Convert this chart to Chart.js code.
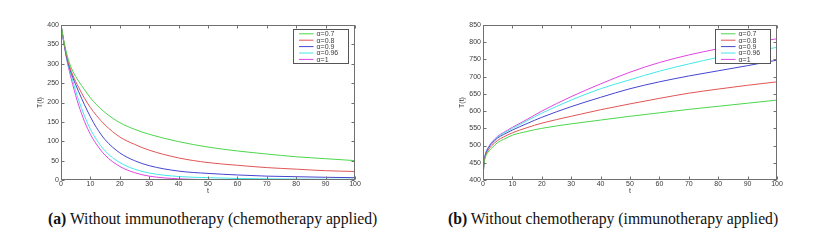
<!DOCTYPE html>
<html><head><meta charset="utf-8">
<script src="https://cdn.jsdelivr.net/npm/chart.js@4.4.1/dist/chart.umd.min.js"></script>
<style>
html,body{margin:0;padding:0;background:#fff;width:820px;height:240px;overflow:hidden}
.fig{position:absolute;top:0;width:410px;height:205px}
#fa{left:0}#fb{left:410px}
.cap{position:absolute;top:210px;font-family:"Liberation Serif","Times New Roman",serif;font-size:15.7px;color:#111;white-space:nowrap;line-height:18px}
#capA{left:48px}#capB{left:448px}
</style></head><body>
<div class="fig" id="fa"><canvas id="ca" width="410" height="205"></canvas></div>
<div class="fig" id="fb"><canvas id="cb" width="410" height="205"></canvas></div>
<div class="cap" id="capA"><b>(a)</b> Without immunotherapy (chemotherapy applied)</div>
<div class="cap" id="capB"><b>(b)</b> Without chemotherapy (immunotherapy applied)</div>
<script>
// ---- data ----
const alphaLabels = ['α=0.7', 'α=0.8', 'α=0.9', 'α=0.96', 'α=1'];
const seriesColors = ['#4cd64c', '#e05555', '#4545d0', '#45e8e8', '#e045e0'];

// (a) chemotherapy only
const tChemo   = [0, 1, 2, 3, 4, 5, 6, 8, 10, 12, 15, 20, 25, 30, 40, 50, 60, 70, 80, 90, 100];
const chemoA07 = [400, 358, 324, 299, 281, 267, 255, 233, 212, 195, 174, 148, 131, 118, 99, 85, 75, 67, 60, 55, 50];
const chemoA08 = [400, 356, 318, 291, 271, 254, 239, 211, 187, 167, 142, 111, 92, 77, 57, 45, 38, 32, 28, 24, 22];
const chemoA09 = [400, 354, 314, 287, 265, 246, 228, 194, 163, 136, 104, 70, 50, 37, 23, 17, 13, 10, 8.5, 7, 6];
const chemoA096= [400, 353, 312, 282, 256, 230, 206, 165, 131, 105, 75, 45, 28, 18, 9, 6, 4, 3, 2.5, 2, 2];
const chemoA1  = [400, 352, 309, 276, 246, 218, 193, 151, 118, 93, 64, 35, 19, 10, 3, 1, 0.3, 0.1, 0, 0, 0];

// (b) immunotherapy only
const tImmuno   = [0, 0.3, 0.7, 1, 2, 3, 5, 7, 10, 15, 20, 30, 40, 50, 60, 70, 80, 90, 100];
const immunoA07 = [400, 445, 462, 470, 484, 493, 509, 518, 530, 541, 550, 563, 574, 585, 595, 605, 614, 623, 632];
const immunoA08 = [400, 447, 466, 474, 490, 500, 515, 525, 537, 552, 565, 585, 604, 621, 637, 652, 664, 675, 685];
const immunoA09 = [400, 448, 469, 478, 495, 506, 522, 532, 545, 564, 582, 613, 640, 665, 685, 702, 717, 732, 748];
const immunoA096= [400, 449, 470, 480, 497, 508, 525, 536, 550, 572, 594, 632, 665, 691, 716, 737, 756, 771, 785];
const immunoA1  = [400, 450, 471, 481, 498, 510, 527, 538, 553, 576, 600, 642, 679, 713, 741, 763, 781, 797, 810];

const xTickStep = 10;
const yRangeA = [0, 400], yRangeB = [400, 850], yTickStep = 50;

// ---- drawing ----
const FONT = '"Liberation Sans", Arial, sans-serif';
const TEXT = '#3a3a3a';

const boxPlugin = {
  id: 'matlabBox',
  afterDatasetsDraw(chart) {
    const {ctx, chartArea: a, scales: {x, y}} = chart;
    ctx.save();
    ctx.strokeStyle = '#707070';
    ctx.lineWidth = 1;
    const L = Math.round(a.left) + 0.5, R = Math.round(a.right) - 0.5;
    const T = Math.round(a.top) + 0.5, B = Math.round(a.bottom) - 0.5;
    ctx.strokeRect(L, T, R - L, B - T);
    ctx.beginPath();
    x.ticks.forEach(t => {
      const p = Math.round(x.getPixelForValue(t.value)) + 0.5;
      ctx.moveTo(p, B); ctx.lineTo(p, B - 3);
      ctx.moveTo(p, T); ctx.lineTo(p, T + 3);
    });
    y.ticks.forEach(t => {
      const p = Math.round(y.getPixelForValue(t.value)) + 0.5;
      ctx.moveTo(L, p); ctx.lineTo(L + 3, p);
      ctx.moveTo(R, p); ctx.lineTo(R - 3, p);
    });
    ctx.stroke();
    // legend
    const bw = 55, bh = 34;
    const bx = Math.round(a.right - 7 - bw) + 0.5, by = Math.round(a.top + 4) + 0.5;
    ctx.fillStyle = '#fff';
    ctx.fillRect(bx, by, bw, bh);
    ctx.strokeStyle = '#555';
    ctx.strokeRect(bx, by, bw, bh);
    ctx.font = '7px ' + FONT;
    ctx.textBaseline = 'middle';
    ctx.textAlign = 'left';
    chart.data.datasets.forEach((ds, i) => {
      const ry = by + 4.3 + i * 6.4;
      ctx.strokeStyle = ds.borderColor;
      ctx.lineWidth = 1;
      ctx.beginPath();
      ctx.moveTo(bx + 5.5, ry); ctx.lineTo(bx + 20, ry);
      ctx.stroke();
      ctx.fillStyle = TEXT;
      ctx.fillText(ds.label, bx + 23, ry + 0.5);
    });
    ctx.restore();
  }
};

function makeChart(id, tArr, series, yRange, yAxisWidth, titlePadTop, rightPad) {
  return new Chart(document.getElementById(id), {
    type: 'line',
    data: {
      datasets: series.map((vals, i) => ({
        label: alphaLabels[i],
        data: tArr.map((t, j) => ({x: t, y: vals[j]})),
        borderColor: seriesColors[i],
        borderWidth: 1,
        pointRadius: 0,
        fill: false,
        cubicInterpolationMode: 'monotone'
      }))
    },
    options: {
      responsive: false,
      animation: false,
      layout: {padding: {left: 0, right: rightPad, top: 25, bottom: 0}},
      plugins: {legend: {display: false}, tooltip: {enabled: false}},
      scales: {
        x: {
          type: 'linear', min: 0, max: 100,
          grid: {display: false, drawTicks: false},
          border: {display: false},
          ticks: {stepSize: xTickStep, padding: 0, color: TEXT, font: {family: FONT, size: 7}, maxRotation: 0},
          title: {display: true, text: 't', color: TEXT, font: {family: FONT, size: 7}, padding: {top: 0, bottom: 10}},
          afterFit: s => { s.height = 25; }
        },
        y: {
          min: yRange[0], max: yRange[1],
          grid: {display: false, drawTicks: false},
          border: {display: false},
          ticks: {stepSize: yTickStep, padding: 2, color: TEXT, font: {family: FONT, size: 7}},
          title: {display: true, text: 'T(t)', color: TEXT, font: {family: FONT, size: 7}, padding: {top: titlePadTop, bottom: 0}},
          afterFit: s => { s.width = yAxisWidth; }
        }
      }
    },
    plugins: [boxPlugin]
  });
}

makeChart('ca', tChemo, [chemoA07, chemoA08, chemoA09, chemoA096, chemoA1], yRangeA, 61, 36, 55);
makeChart('cb', tImmuno, [immunoA07, immunoA08, immunoA09, immunoA096, immunoA1], yRangeB, 73, 48, 43);
</script>
</body></html>
